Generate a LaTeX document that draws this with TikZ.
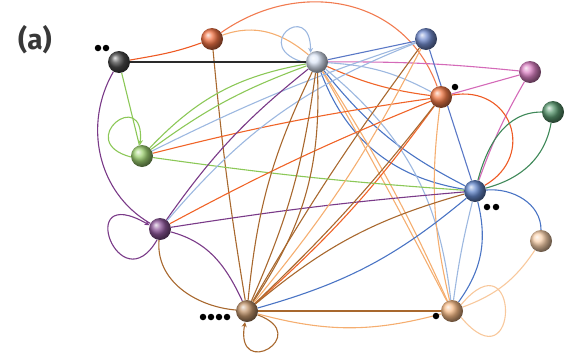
\documentclass[tikz,border=0pt]{standalone}
\usetikzlibrary{arrows.meta}
\usepackage{fontspec}
\setsansfont{Fira Sans}
\pgfdeclarelayer{bg}
\pgfsetlayers{bg,main}
\definecolor{cK}{HTML}{2A2A2A}
\definecolor{cOT}{HTML}{EE5A24}
\definecolor{cLB}{HTML}{C4D4F0}
\definecolor{cLBl}{HTML}{9DB8E0}
\definecolor{cBT}{HTML}{5A78C6}
\definecolor{cPK}{HTML}{D46AB8}
\definecolor{cOM}{HTML}{F06428}
\definecolor{cDG}{HTML}{3E8858}
\definecolor{cLG}{HTML}{8CC858}
\definecolor{cBR}{HTML}{4A74C4}
\definecolor{cPE}{HTML}{F8C89C}
\definecolor{cPU}{HTML}{7A3A88}
\definecolor{cBN}{HTML}{A8682E}
\definecolor{cLO}{HTML}{F5AE70}
\tikzset{
  ball/.style={circle,inner sep=0pt,minimum size=22pt,ball color=#1},
  e/.style={draw=#1,line width=1.1pt},
  lp/.style={draw=#1,line width=1.1pt,-{Stealth[length=5pt,width=5pt]}},
  dotk/.style={circle,fill=black,inner sep=0pt,minimum size=6.5pt}
}
\begin{document}
\begin{tikzpicture}[x=1pt,y=-1pt]
\useasboundingbox (0,0) rectangle (567,359);
\node[font=\sffamily\bfseries\fontsize{28}{28}\selectfont,text=black!78] (lab) at (35,40) {(a)};
% nodes
\node[ball=cK!85!white]  (k)  at (119,62) {};
\node[ball=cOT!85!white] (ot) at (212,39) {};
\node[ball=cLB!60!white] (lb) at (317,62) {};
\node[ball=cBT!85!white] (bt) at (426,39) {};
\node[ball=cPK!85!white] (pk) at (530,72) {};
\node[ball=cOM!85!white] (om) at (441,97) {};
\node[ball=cDG!85!white] (dg) at (553,112) {};
\node[ball=cLG!85!white] (lg) at (142,156) {};
\node[ball=cBR!85!white] (br) at (475,191) {};
\node[ball=cPE!85!white] (pe) at (541,241) {};
\node[ball=cPU!85!white] (pu) at (160,229) {};
\node[ball=cBN!70!white] (bn) at (247,311) {};
\node[ball=cLO!85!white] (lo) at (452,311) {};
% dots
\node[dotk] (d1) at (98,48) {};
\node[dotk] (d2) at (106,48) {};
\node[dotk] (d3) at (455,87) {};
\node[dotk] (d4) at (487,207) {};
\node[dotk] (d5) at (496,207) {};
\node[dotk] (d6) at (203,317) {};
\node[dotk] (d7) at (211,317) {};
\node[dotk] (d8) at (219,317) {};
\node[dotk] (d9) at (227,317) {};
\node[dotk] (d10) at (436,316) {};
\begin{pgfonlayer}{bg}
% top
\draw[e=cOT] (k) to[out=10,in=200] (ot);
\draw[e=cOT!80] (ot) to[out=35,in=110,looseness=1.1] (om);
\draw[e=cLO] (ot) to[out=20,in=140] (lb);
\draw[e=cBN] (ot) to[bend right=2] (bn);
\draw[lp=cLBl] (lb.185) .. controls +(165:60pt) and +(90:55pt) .. (lb.125);
\draw[e=cK] (k) -- (lb);
\draw[e=cBT] (lb) -- (bt);
\draw[e=cPK] (lb) to[bend left=3] (pk);
\draw[e=cOM] (lb) to[bend right=8] (om);
\draw[e=cLBl] (lb) to[bend left=12] (om);
\draw[e=cBR] (lb) to[bend right=12] (br);
\draw[e=cBR] (lb) to[bend right=30] (br);
\draw[e=cLBl] (lb) to[bend left=22] (lo);
\draw[e=cLO] (lb) to[bend left=4] (lo);
\draw[e=cLO] (lb) to[bend left=1] (lo);
\draw[e=cBN] (bt) to[bend right=3] (bn);
\draw[e=cBT] (bt) -- (br);
\draw[e=cPK] (om) -- (pk);
\draw[e=cPK] (pk) to[bend right=5] (br);
\draw[e=cOT] (om) to[out=10,in=30,looseness=1.6] (br);
\draw[e=cOM] (om) to[bend left=6] (bn);
\draw[e=cLO] (om) to[bend right=10] (lo);
\draw[e=cDG] (br) to[out=75,in=180] (dg);
\draw[e=cDG] (br) to[out=15,in=260] (dg);
\draw[e=cBR] (br) to[out=5,in=90] (pe);
% left
\draw[e=cLG] (k) -- (lg);
\draw[lp=cLG] (lg.185) .. controls +(165:60pt) and +(85:60pt) .. (lg.100);
\draw[e=cLG] (lg) to[bend left=18] (lb);
\draw[e=cLG] (lg) to[bend left=8] (lb);
\draw[e=cLBl] (lg) to[bend left=4] (bt);
\draw[e=cOM] (lg) to[bend left=3] (om);
\draw[e=cLG] (lg) to[bend right=2] (br);
\draw[e=cPU] (k) to[out=240,in=150] (pu);
\draw[lp=cPU] (pu.255) .. controls +(240:75pt) and +(150:88pt) .. (pu.160);
\draw[e=cPU] (pu) to[bend left=8] (lb);
\draw[e=cOM] (pu) to[bend left=3] (om);
\draw[e=cPU] (pu) to[bend left=2] (br);
\draw[e=cLBl] (pu) to[bend left=14] (bt);
\draw[e=cBN] (pu) to[out=-95,in=175] (bn);
\draw[e=cPU] (pu) to[out=-15,in=115] (bn);
% bottom
\draw[lp=cBN] (bn.-20) .. controls +(-20:60pt) and +(-100:60pt) .. (bn.-100);
\draw[e=cBN] (bn) -- (lo);
\draw[e=cLO] (bn) to[bend right=15] (lo);
\draw[e=cBN] (bn) to[bend left=10] (lb);
\draw[e=cBN] (bn) to[bend right=8] (lb);
\draw[e=cBN] (bn) to[bend right=18] (lb);
\draw[e=cBN] (bn) to[bend left=12] (br);
\draw[e=cBR] (bn) to[bend right=12] (br);
\draw[e=cBN] (bn) to[bend right=4] (om);
\draw[e=cLO] (bn) to[bend right=6] (bt);
\draw[e=cPE] (lo.35) .. controls +(50:92pt) and +(-50:92pt) .. (lo.-35);
\draw[e=cPE] (lo) to[bend right=18] (pe);
\draw[e=cBR] (lo) to[bend right=25] (br);
\draw[e=cLBl] (lo) to[bend left=3] (br);
\end{pgfonlayer}
\end{tikzpicture}
\end{document}
